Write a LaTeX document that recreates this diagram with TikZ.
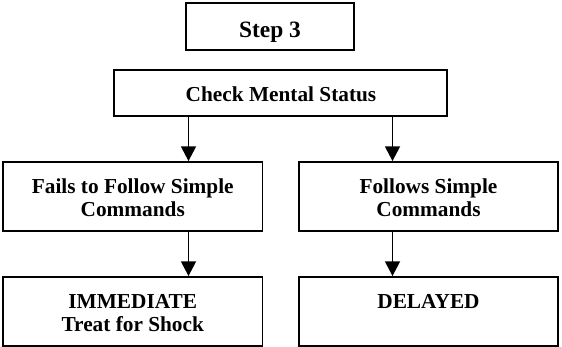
\documentclass[tikz,border=0pt]{standalone}
\usepackage{fontspec}
\setmainfont{Liberation Serif}
\usetikzlibrary{arrows.meta}
\begin{document}
\begin{tikzpicture}[x=1pt,y=-1pt,
  box/.style={draw, line width=1.9pt, rectangle, inner sep=0pt},
  txt/.style={inner sep=0pt, align=center, font=\bfseries\fontsize{21.3}{23.3}\selectfont},
  arr/.style={line width=1.6pt, -{Triangle[length=14.7pt,width=15pt]}}]
\useasboundingbox (0,0) rectangle (562,347);
% boxes
\node[box, minimum width=168pt, minimum height=47pt] (step) at (270,26.5) {};
\node[box, minimum width=333pt, minimum height=46pt] (check) at (280.5,93) {};
\node[box, minimum width=259.5pt, minimum height=69pt] (fail) at (132.75,196.5) {};
\node[box, minimum width=259pt, minimum height=69pt] (follow) at (428.5,196.5) {};
\node[box, minimum width=259.5pt, minimum height=69pt] (imm) at (132.75,311.5) {};
\node[box, minimum width=259pt, minimum height=69pt] (del) at (428.5,311.5) {};
% texts (base anchor = baseline of the last line)
\node[txt, anchor=base, font=\bfseries\fontsize{23.4}{25}\selectfont] (tstep) at (270,37.3) {Step 3};
\node[txt, anchor=base] (tcheck) at (281,101.7) {Check Mental Status};
\node[txt, anchor=base] (tfail) at (132.75,216.6) {Fails to Follow Simple\\Commands};
\node[txt, anchor=base] (tfollow) at (428.5,216.6) {Follows Simple\\Commands};
\node[txt, anchor=base] (timm) at (132.75,331.7) {IMMEDIATE\\Treat for Shock};
\node[txt, anchor=base] (tdel) at (428.5,308.3) {DELAYED};
% connector columns
\coordinate (cl) at (188.5,0);
\coordinate (cr) at (392.5,0);
\draw[arr] (check.south -| cl) -- (fail.north -| cl);
\draw[arr] (check.south -| cr) -- (follow.north -| cr);
\draw[arr] (fail.south -| cl) -- (imm.north -| cl);
\draw[arr] (follow.south -| cr) -- (del.north -| cr);
\end{tikzpicture}
\end{document}
